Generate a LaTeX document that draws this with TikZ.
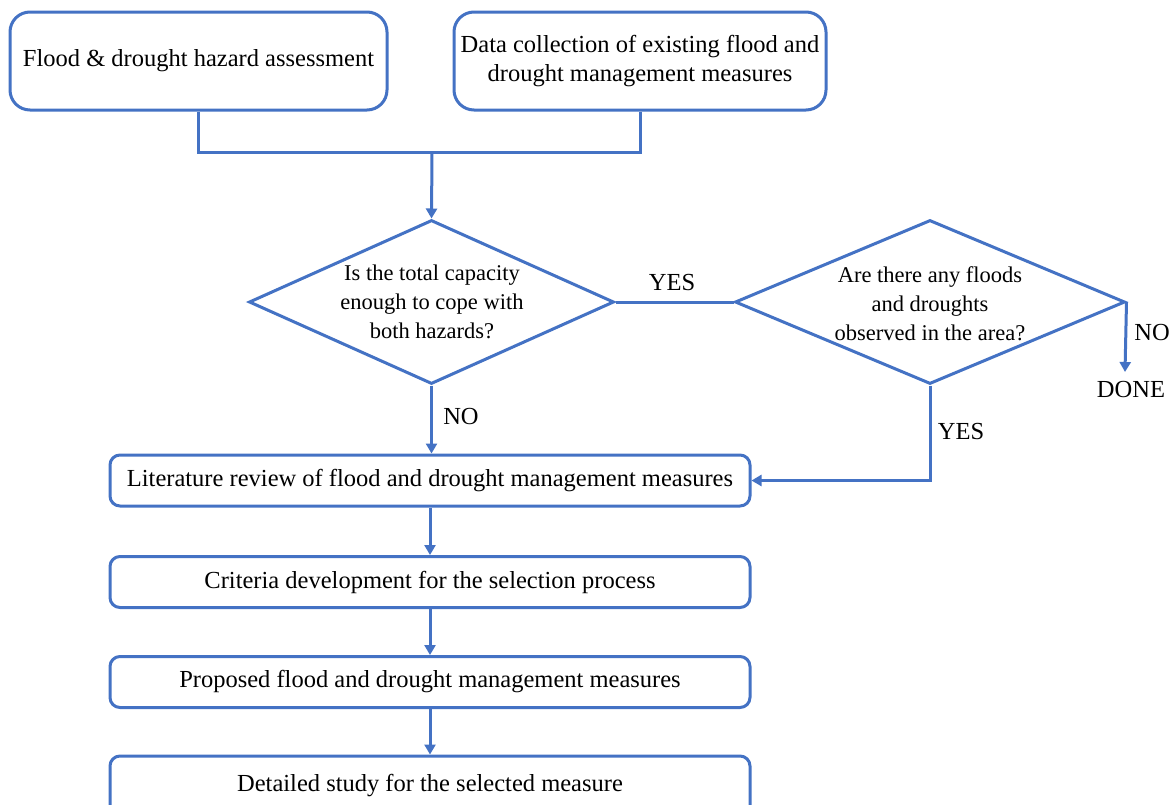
\documentclass[tikz,border=0pt]{standalone}
\usepackage{fontspec}
\setmainfont{Liberation Serif}
\usetikzlibrary{arrows.meta,shapes.geometric,positioning}
\definecolor{fblue}{RGB}{68,114,196}
\begin{document}
\begin{tikzpicture}[x=1pt,y=-1pt,
  font=\fontsize{24.5}{29.5}\selectfont,
  line/.style={draw=fblue,line width=3pt},
  arr/.style={line,-{Triangle[width=11pt,length=10pt]}},
  bigbox/.style={line,rounded corners=20pt,minimum width=#1,minimum height=98pt,inner sep=0pt,align=center},
  stepbox/.style={line,rounded corners=10pt,minimum width=640pt,minimum height=51pt,inner sep=0pt,align=center},
  dia/.style={line,diamond,minimum width=#1,minimum height=164pt,inner sep=0pt},
  diatext/.style={inner sep=0pt,align=center,font=\fontsize{22.5}{29}\selectfont},
  lbl/.style={inner sep=0pt}]
\useasboundingbox (0,0) rectangle (1176,804);
\fill[white] (0,0) rectangle (1176,804);
\clip (0,0) rectangle (1176,804);
\node[bigbox=377pt] (b1) at (198.5,61) {Flood \& drought hazard assessment};
\node[bigbox=372pt] (b2) at (640,61) {Data collection of existing flood and\\drought management measures};
\node[dia=365pt] (d1) at (431.5,302) {};
\node[diatext] (t1) at (432,302) {Is the total capacity\\enough to cope with\\both hazards?};
\node[dia=390pt] (d2) at (930,302) {};
\node[diatext] (t2) at (930,304) {Are there any floods\\and droughts\\observed in the area?};
\node[stepbox] (s1) at (430,480.5) {Literature review of flood and drought management measures};
\node[stepbox] (s2) at (430,582) {Criteria development for the selection process};
\node[stepbox] (s3) at (430,682) {Proposed flood and drought management measures};
\node[stepbox,minimum height=60pt] (s4) at (430,786) {Detailed study for the selected measure};
\node[lbl] (done) at (1131,390) {DONE};
\node[lbl] (no2) at (1152,333) {NO};
\node[lbl] (yes1) at (672,283) {YES};
\node[lbl] (no1) at (461,417) {NO};
\node[lbl] (yes2) at (961,432) {YES};
\coordinate (j) at (432,152);
\coordinate (dn) at (1125,372);
\draw[line] (b1.south) |- (j);
\draw[line] (b2.south) |- (j);
\draw[arr] (j) -- (d1.north);
\draw[line] (d1.east) -- (d2.west);
\draw[arr] (d2.east) -- (dn);
\draw[arr] (d1.south) -- (s1.north -| d1.south);
\draw[arr] (d2.south) |- (s1.east);
\draw[arr] (s1.south) -- (s2.north);
\draw[arr] (s2.south) -- (s3.north);
\draw[arr] (s3.south) -- (s4.north);
\end{tikzpicture}
\end{document}
